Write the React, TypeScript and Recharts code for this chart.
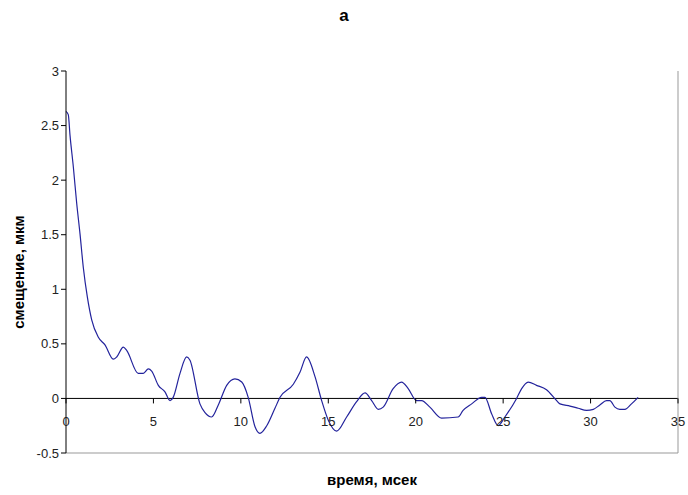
import { LineChart, Line, XAxis, YAxis, ReferenceLine } from 'recharts'

// время, мсек
const times = [
  0, 0.13, 0.23, 0.42, 0.61, 0.8, 0.99, 1.22, 1.47, 1.85, 2.23, 2.7, 2.9, 3.28, 3.47,
  4.13, 4.42, 4.71, 4.9, 5.28, 5.66, 5.95, 6.13, 6.52, 6.9, 7.09, 7.66, 7.95, 8.33,
  8.71, 9.19, 9.66, 10.05, 10.42, 10.81, 11.09, 11.48, 11.95, 12.24, 13.0, 13.38,
  13.76, 14.24, 14.62, 15.0, 15.48, 16.05, 16.62, 17.1, 17.48, 17.86, 18.14, 18.71,
  19.19, 19.57, 20.05, 20.34, 20.81, 21.48, 22.43, 22.71, 23.2, 23.77, 23.96, 24.34,
  24.72, 25.1, 25.77, 26.06, 26.43, 26.91, 27.48, 28.06, 28.25, 28.82, 29.29, 29.77,
  30.16, 30.53, 30.91, 31.1, 31.39, 31.67, 31.96, 32.34, 32.72,
]

// смещение, мкм
const shift = [
  2.63, 2.6, 2.41, 2.12, 1.79, 1.51, 1.2, 0.93, 0.72, 0.56, 0.49, 0.36, 0.38, 0.47, 0.44,
  0.23, 0.23, 0.27, 0.25, 0.12, 0.06, -0.02, 0.01, 0.23, 0.38, 0.35, -0.05, -0.13, -0.17,
  -0.06, 0.12, 0.18, 0.15, 0.01, -0.26, -0.32, -0.25, -0.09, 0.01, 0.13, 0.24,
  0.38, 0.2, -0.02, -0.2, -0.3, -0.17, -0.03, 0.05, -0.02, -0.1, -0.08, 0.09,
  0.15, 0.09, -0.02, -0.02, -0.08, -0.18, -0.17, -0.11, -0.05, 0.01, 0.01, -0.14,
  -0.25, -0.17, 0.0, 0.09, 0.15, 0.12, 0.08, -0.02, -0.05, -0.07, -0.09, -0.11,
  -0.1, -0.06, -0.02, -0.02, -0.08, -0.1, -0.1, -0.05, 0.01,
]

const xTicks = [0, 5, 10, 15, 20, 25, 30, 35]
const yTicks = [-0.5, 0, 0.5, 1, 1.5, 2, 2.5, 3]

const W = 688
const H = 495
const TOP = 71
const BOTTOM = 42
const Y_MIN = -0.5
const Y_MAX = 3
const FONT = '"Liberation Sans", Arial, sans-serif'

const data = times.map((t, i) => ({ t, v: shift[i] }))

// x tick labels sit under the zero line, not under the bottom border
function ZeroTick(props: any) {
  const { x, y, payload } = props
  const plotH = H - TOP - BOTTOM
  const zeroY = y - plotH * (0 - Y_MIN) / (Y_MAX - Y_MIN)
  return (
    <g>
      <line x1={x} x2={x} y1={zeroY} y2={zeroY + 5} stroke="#000" />
      <text x={x} y={zeroY + 28} textAnchor="middle" fontSize={13} fontFamily={FONT} fill="#222">
        {payload.value}
      </text>
    </g>
  )
}

export default function App() {
  return (
    <div style={{ position: 'absolute', left: 0, top: 0, width: W, height: H, background: '#fff' }}>
      <div
        style={{
          position: 'absolute', left: 344, top: 6, transform: 'translateX(-50%)',
          fontFamily: FONT, fontWeight: 'bold', fontSize: 17, color: '#000', lineHeight: 'normal',
        }}
      >
        а
      </div>
      <LineChart width={W} height={H} data={data} margin={{ top: TOP, right: 0, left: 0, bottom: 0 }}>
        <XAxis
          dataKey="t"
          type="number"
          domain={[0, 35]}
          ticks={xTicks}
          height={BOTTOM}
          axisLine={{ stroke: '#999' }}
          tickLine={false}
          tickSize={0}
          tickMargin={0}
          tick={<ZeroTick />}
          interval={0}
          label={{
            value: 'время, мсек', position: 'insideBottom', offset: 10,
            style: { fontFamily: FONT, fontWeight: 'bold', fontSize: 15, fill: '#000' },
          }}
        />
        <XAxis
          xAxisId="top"
          orientation="top"
          type="number"
          domain={[0, 35]}
          height={0}
          tick={false}
          tickLine={false}
          axisLine={{ stroke: '#999' }}
        />
        <YAxis
          type="number"
          domain={[Y_MIN, Y_MAX]}
          ticks={yTicks}
          width={66}
          interval={0}
          axisLine={{ stroke: '#000' }}
          tickLine={{ stroke: '#000' }}
          tickSize={5}
          tickMargin={2}
          tick={{ fontSize: 13, fontFamily: FONT, fill: '#222' }}
          label={{
            value: 'смещение, мкм', angle: -90, position: 'insideLeft', offset: 19, dy: 10,
            style: { fontFamily: FONT, fontWeight: 'bold', fontSize: 15, fill: '#000', textAnchor: 'middle' },
          }}
        />
        <YAxis
          yAxisId="right"
          orientation="right"
          domain={[Y_MIN, Y_MAX]}
          width={10}
          tick={false}
          tickLine={false}
          axisLine={{ stroke: '#999' }}
        />
        <ReferenceLine y={0} stroke="#000" />
        <Line
          type="monotone"
          dataKey="v"
          stroke="#23239c"
          strokeWidth={1.2}
          dot={false}
          isAnimationActive={false}
        />
      </LineChart>
    </div>
  )
}
